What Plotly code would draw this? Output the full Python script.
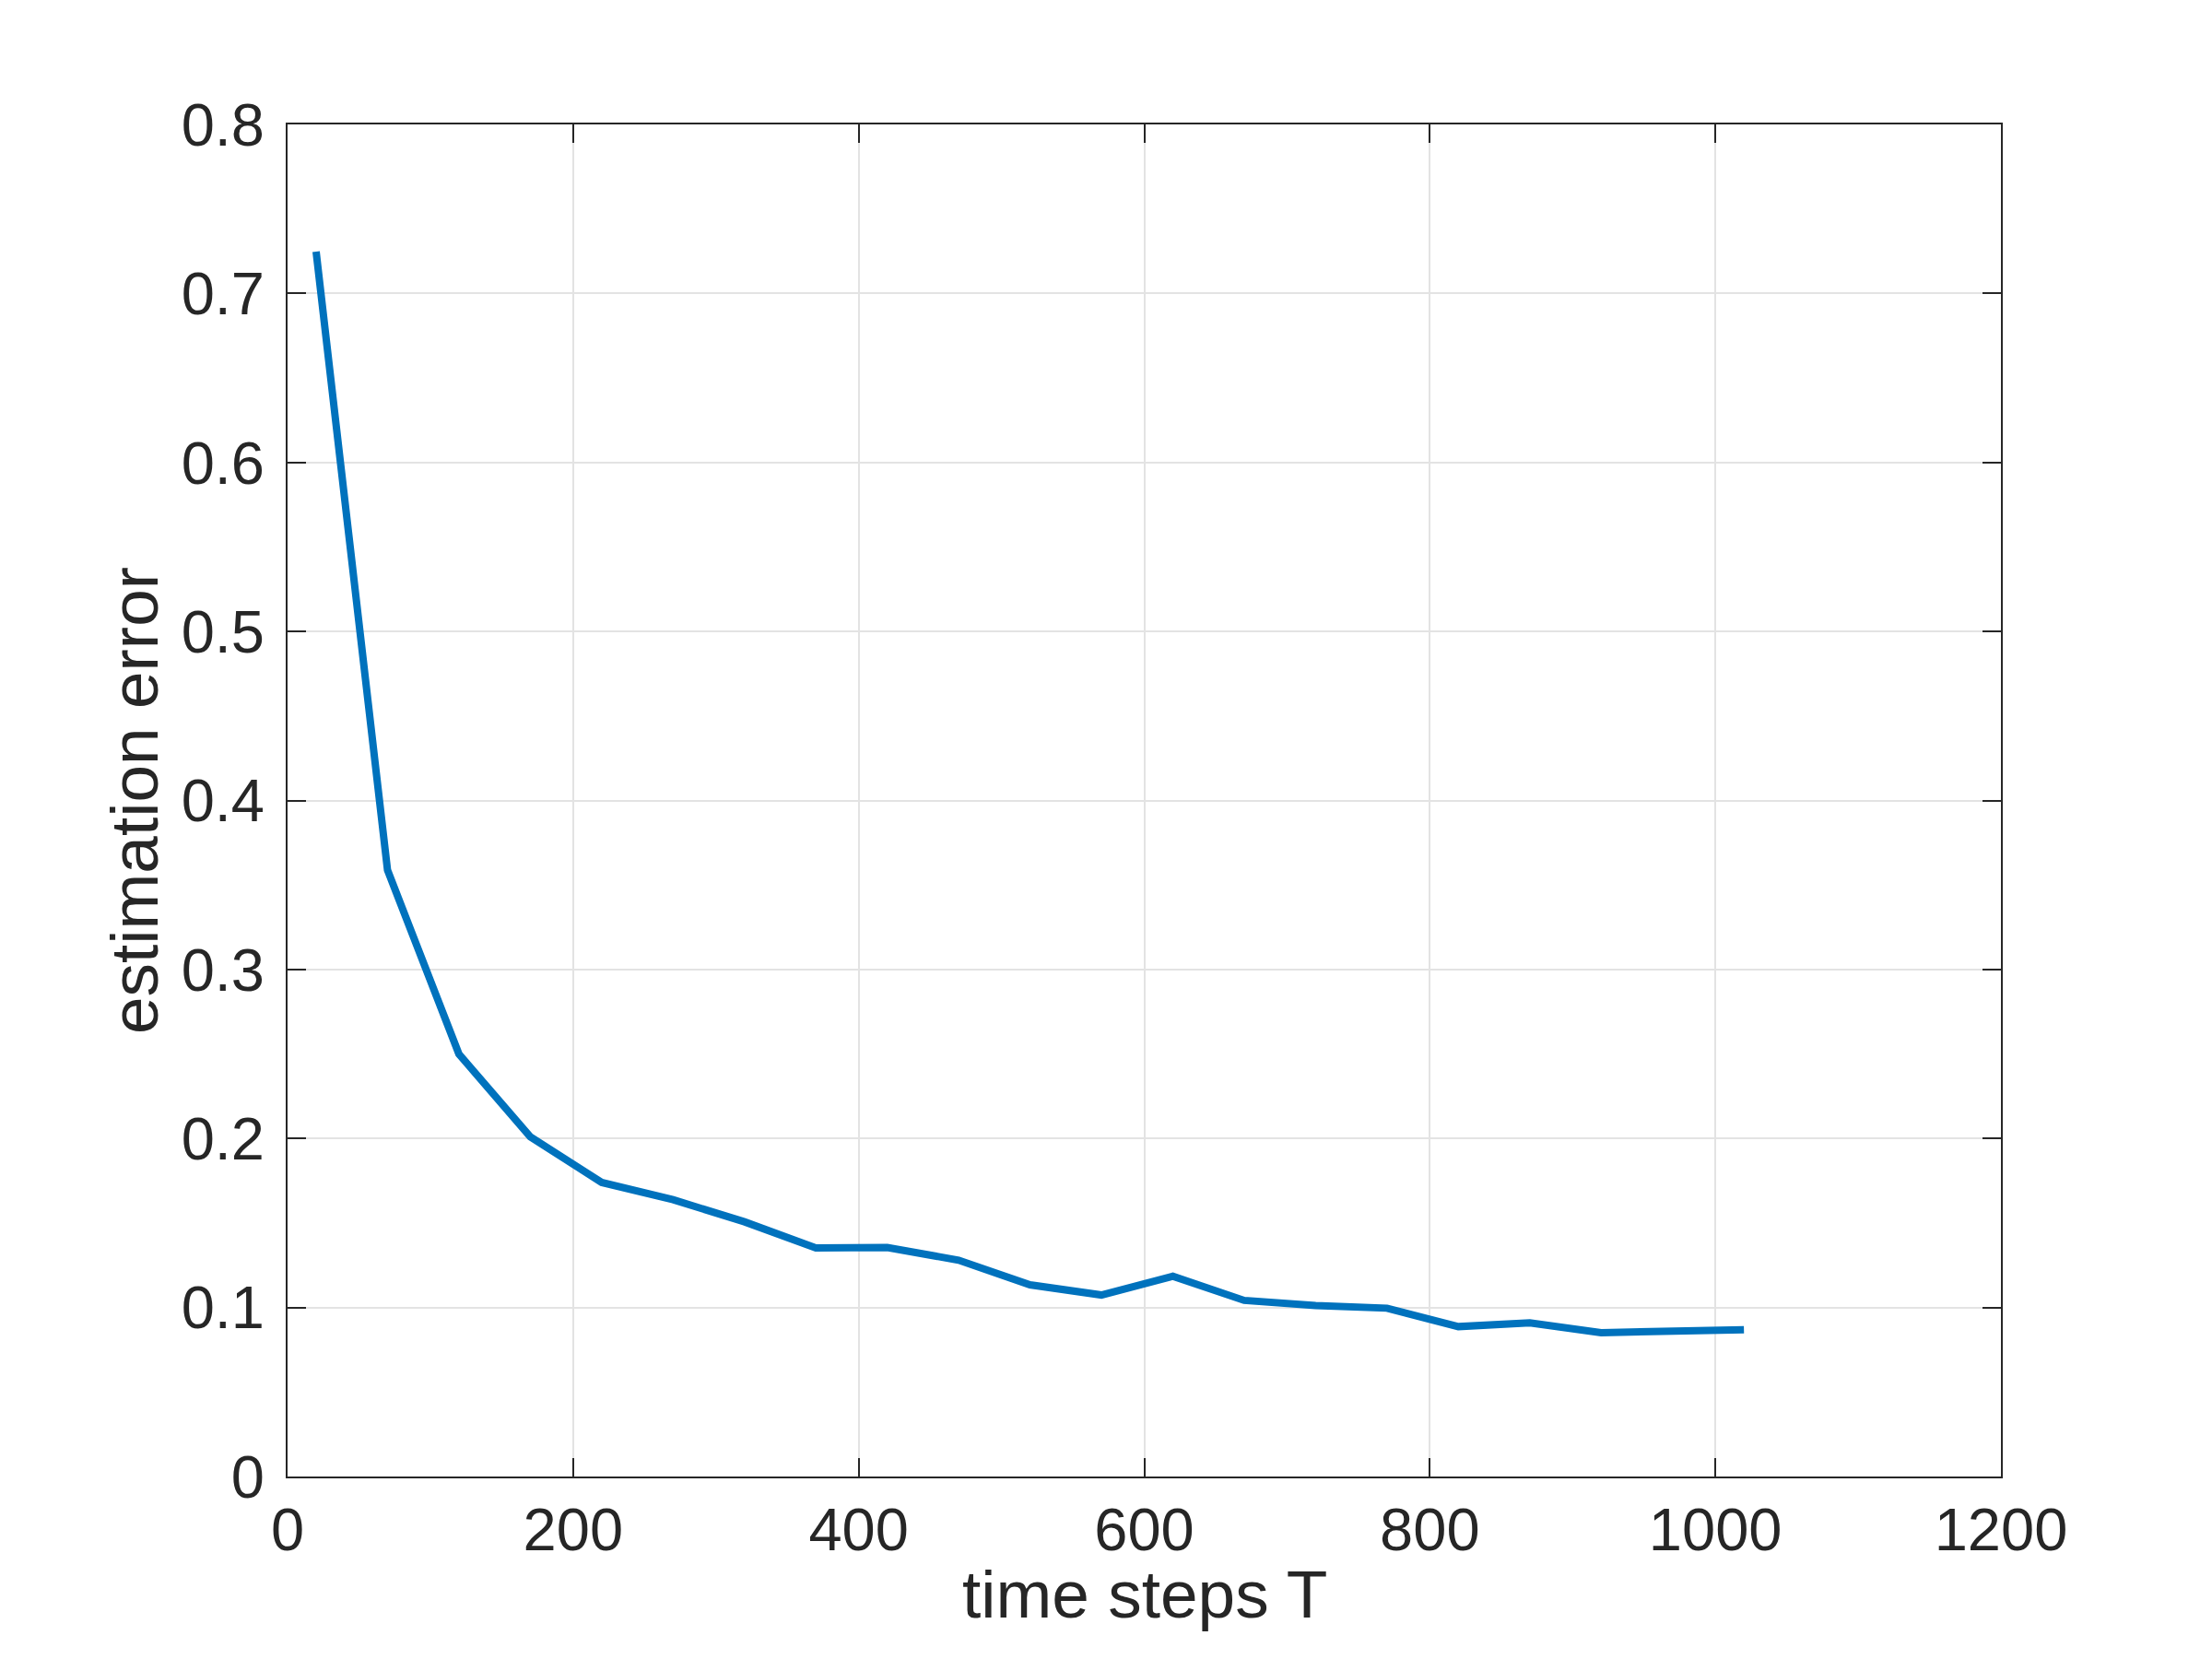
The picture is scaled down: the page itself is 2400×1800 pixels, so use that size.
import plotly.graph_objects as go

# time steps and estimation error
time_steps = [20, 70, 120, 170, 220, 270, 320, 370, 420, 470, 520,
              570, 620, 670, 720, 770, 820, 870, 920, 970, 1020]
est_error = [0.7247, 0.3588, 0.250, 0.201, 0.174, 0.1638, 0.1507, 0.1352, 0.1355, 0.128, 0.1134,
             0.1074, 0.1185, 0.1042, 0.1011, 0.0996, 0.0887, 0.0909, 0.0851, 0.0858, 0.0869]

x_ticks = [0, 200, 400, 600, 800, 1000, 1200]
y_ticks = [0, 0.1, 0.2, 0.3, 0.4, 0.5, 0.6, 0.7, 0.8]

fig = go.Figure()
fig.add_trace(go.Scatter(x=time_steps, y=est_error, mode="lines",
                         line=dict(color="#0072BD", width=8), showlegend=False))

axis_style = dict(showline=True, linecolor="#262626", linewidth=2, mirror="ticks",
                  ticks="inside", ticklen=20, tickwidth=2, tickcolor="#262626",
                  showgrid=True, gridcolor="#e3e3e3", gridwidth=2, zeroline=False,
                  tickfont=dict(family="Liberation Sans", size=65, color="#262626"))

fig.update_xaxes(range=[0, 1200], tickvals=x_ticks, ticktext=[str(v) for v in x_ticks],
                 ticklabelstandoff=0, **axis_style)
fig.update_yaxes(range=[0, 0.8], tickvals=y_ticks, ticktext=[f"{v:g}" for v in y_ticks],
                 title=dict(text="estimation error", standoff=1,
                            font=dict(family="Liberation Sans", size=73, color="#262626")),
                 ticklabelstandoff=10, **axis_style)

# x title as annotation so it sits a bit closer to the tick labels
fig.add_annotation(text="time steps T", xref="paper", yref="paper", x=0.5, y=-0.087,
                   xanchor="center", yanchor="middle", showarrow=False,
                   font=dict(family="Liberation Sans", size=73, color="#262626"))

fig.update_layout(width=2400, height=1800, plot_bgcolor="white", paper_bgcolor="white",
                  margin=dict(l=304, r=237, t=127, b=206, autoexpand=False))

fig.write_html("out.html")
